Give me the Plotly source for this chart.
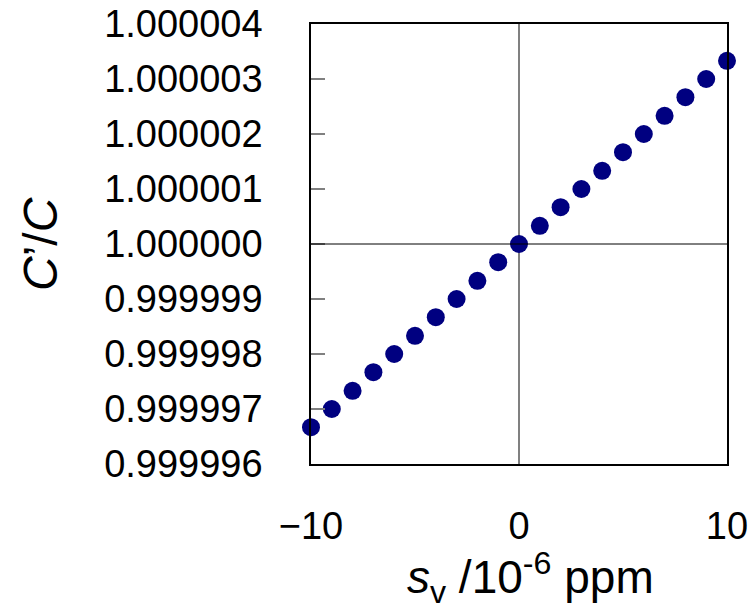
import plotly.graph_objects as go

sv = [-10, -9, -8, -7, -6, -5, -4, -3, -2, -1, 0, 1, 2, 3, 4, 5, 6, 7, 8, 9, 10]
ratio = [0.99999667, 0.99999700, 0.99999733, 0.99999767, 0.99999800, 0.99999833,
         0.99999867, 0.99999900, 0.99999933, 0.99999967, 1.00000000, 1.00000033,
         1.00000067, 1.00000100, 1.00000133, 1.00000167, 1.00000200, 1.00000233,
         1.00000267, 1.00000300, 1.00000333]
y_ticks = [0.999996, 0.999997, 0.999998, 0.999999, 1.000000, 1.000001, 1.000002, 1.000003, 1.000004]
y_ticklabels = ["0.999996", "0.999997", "0.999998", "0.999999", "1.000000",
                "1.000001", "1.000002", "1.000003", "1.000004"]
x_ticks = [-10, 0, 10]
x_ticklabels = ["\u221210", "0", "10"]

FONT = "Liberation Sans, Arial, sans-serif"

fig = go.Figure()
fig.add_trace(go.Scatter(
    x=sv, y=ratio, mode="markers",
    marker=dict(color="#000080", size=18, line=dict(width=0)),
    cliponaxis=False, showlegend=False,
))

fig.update_layout(
    width=753, height=608,
    margin=dict(l=311, r=26, t=24, b=144, autoexpand=False),
    plot_bgcolor="white", paper_bgcolor="white",
    font=dict(family=FONT, size=37, color="black"),
    xaxis=dict(
        range=[-10, 10], tickvals=x_ticks, ticktext=x_ticklabels,
        showgrid=False, zeroline=True, zerolinecolor="#808080", zerolinewidth=1.5,
        showline=True, linecolor="black", linewidth=1.5, mirror=True,
        ticks="", ticklabelstandoff=28, automargin=False,
        tickfont=dict(size=38),
    ),
    yaxis=dict(
        range=[0.999996, 1.000004], tickvals=y_ticks, ticktext=y_ticklabels,
        showgrid=False, zeroline=False,
        showline=True, linecolor="black", linewidth=1.5, mirror=True,
        ticks="inside", ticklen=14, tickcolor="#808080", tickwidth=1.5,
        ticklabelstandoff=39, automargin=False,
        tickfont=dict(size=38),
    ),
    shapes=[dict(type="line", xref="paper", yref="y", x0=0, x1=1, y0=1.0, y1=1.0,
                 line=dict(color="black", width=1))],
    annotations=[
        dict(text="<i>C</i>\u2019/<i>C</i>", xref="paper", yref="paper",
             x=(40-311)/416, y=0.5, xanchor="center", yanchor="middle",
             textangle=-90, showarrow=False, font=dict(size=48, family=FONT)),
        dict(text="<i>s</i><sub>v</sub> /10<sup>-6</sup> ppm", xref="paper", yref="paper",
             x=(530-311)/416, y=-(577-464)/440, xanchor="center", yanchor="middle",
             showarrow=False, font=dict(size=46, family=FONT)),
    ],
)

fig.write_html("out.html")
